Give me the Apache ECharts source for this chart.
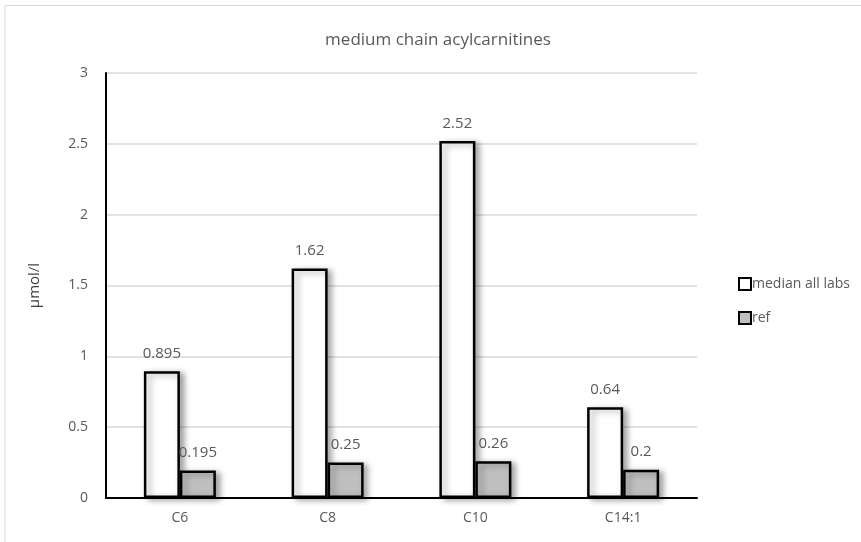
<!DOCTYPE html>
<html>
<head>
<meta charset="utf-8">
<script src="https://cdn.jsdelivr.net/npm/echarts@6/dist/echarts.min.js"></script>
<style>
  html, body { margin: 0; padding: 0; background: #fff; }
  #chart { width: 861px; height: 542px; }
</style>
</head>
<body>
<div id="chart"></div>
<script>
// data
var categories = ['C6', 'C8', 'C10', 'C14:1'];
var medianAllLabs = [0.895, 1.62, 2.52, 0.64];
var refValues = [0.195, 0.25, 0.26, 0.2];

var textColor = '#595959';
var fontFam = '"Open Sans", "Liberation Sans", sans-serif';

var chart = echarts.init(document.getElementById('chart'));

function barSeries(name, data, fill) {
  return {
    name: name,
    type: 'bar',
    data: data,
    barWidth: 36,
    barGap: '0%',
    itemStyle: {
      color: fill,
      borderColor: '#000',
      borderWidth: 2.5,
      borderRadius: 0,
      borderJoin: 'miter',
      shadowColor: 'rgba(0,0,0,0.35)',
      shadowBlur: 6,
      shadowOffsetX: 4,
      shadowOffsetY: 2
    },
    label: {
      show: true,
      position: 'top',
      distance: 10,
      color: textColor,
      fontFamily: fontFam,
      fontSize: 15
    }
  };
}

chart.setOption({
  animation: false,
  backgroundColor: '#fff',
  title: {
    text: 'medium chain acylcarnitines',
    left: 433,
    top: 27,
    textAlign: 'center',
    textStyle: { color: textColor, fontFamily: fontFam, fontSize: 17, fontWeight: 'normal' }
  },
  graphic: [{
    type: 'polyline',
    shape: { points: [[5, 542], [5, 5.5], [861, 5.5]] },
    style: { stroke: '#d9d9d9', lineWidth: 1, fill: null },
    silent: true
  }],
  legend: {
    orient: 'vertical',
    left: 733,
    top: 272,
    icon: 'rect',
    itemWidth: 12,
    itemHeight: 12,
    itemGap: 20,
    itemStyle: { borderWidth: 2, shadowBlur: 0, shadowOffsetX: 0, shadowOffsetY: 0 },
    textStyle: { color: textColor, fontFamily: fontFam, fontSize: 14, padding: [0, 0, 0, -4] },
    data: ['median all labs', 'ref']
  },
  grid: { left: 106, right: 164, top: 73, bottom: 44 },
  xAxis: {
    type: 'category',
    data: categories,
    axisLine: { lineStyle: { color: '#000', width: 2 } },
    axisTick: { show: false },
    axisLabel: { color: textColor, fontFamily: fontFam, fontSize: 14, margin: 13 }
  },
  yAxis: {
    type: 'value',
    min: 0,
    max: 3,
    interval: 0.5,
    name: 'µmol/l',
    nameLocation: 'middle',
    nameGap: 64,
    nameTextStyle: { color: '#404040', fontFamily: fontFam, fontSize: 15 },
    axisLine: { show: true, lineStyle: { color: '#000', width: 2 } },
    axisTick: { show: false },
    axisLabel: { color: textColor, fontFamily: fontFam, fontSize: 14, margin: 18 },
    splitLine: { lineStyle: { color: '#d9d9d9', width: 1.5 } }
  },
  series: [
    barSeries('median all labs', medianAllLabs, '#fff'),
    barSeries('ref', refValues, '#bfbfbf')
  ]
});
</script>
</body>
</html>
